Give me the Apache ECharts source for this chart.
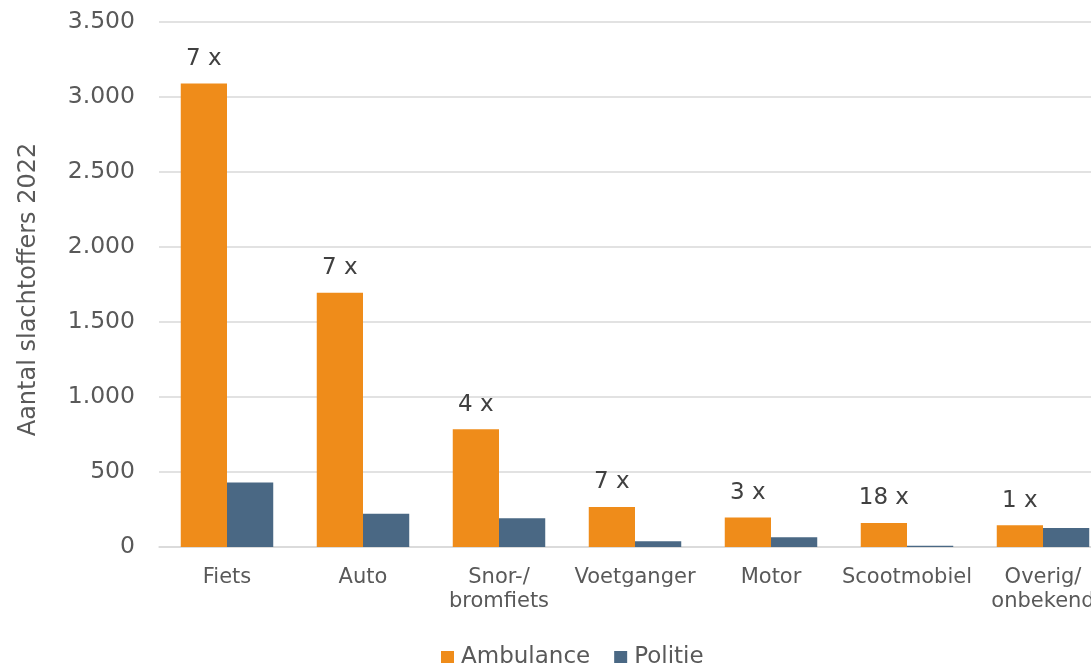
<!DOCTYPE html>
<html>
<head>
<meta charset="utf-8">
<script src="https://cdn.jsdelivr.net/npm/echarts@6/dist/echarts.min.js"></script>
<style>
html,body{margin:0;padding:0;background:#fff;overflow:hidden;width:1091px;height:663px;}
#chart{width:1111px;height:663px;}
</style>
</head>
<body>
<div id="chart"></div>
<script>
const categories = ['Fiets', 'Auto', 'Snor-/\nbromfiets', 'Voetganger', 'Motor', 'Scootmobiel', 'Overig/\nonbekend'];
const ambulance = [3090, 1695, 785, 267, 196, 160, 145];
const politie = [430, 222, 191, 38, 65, 9, 127];
const ratioLabels = ['7 x', '7 x', '4 x', '7 x', '3 x', '18 x', '1 x'];
const yTicks = [0, 500, 1000, 1500, 2000, 2500, 3000, 3500];

const FONT = 'DejaVu Sans';
const chart = echarts.init(document.getElementById('chart'));
chart.setOption({
  animation: false,
  textStyle: { fontFamily: FONT },
  grid: { left: 159, right: 0, top: 22, bottom: 116 },
  legend: {
    left: 436, top: 641,
    itemWidth: 13, itemHeight: 13, itemGap: 24,
    icon: 'rect',
    textStyle: { fontFamily: FONT, fontSize: 23, color: '#595959', padding: [0, 0, 0, 2] },
    data: ['Ambulance', 'Politie']
  },
  xAxis: {
    type: 'category',
    data: categories,
    axisLine: { show: true, lineStyle: { color: '#D9D9D9', width: 1.5 } },
    axisTick: { show: false },
    axisLabel: { fontFamily: FONT, fontSize: 21, color: '#595959', margin: 19, lineHeight: 24, interval: 0 }
  },
  yAxis: {
    type: 'value',
    min: yTicks[0], max: yTicks[yTicks.length - 1], interval: 500,
    name: 'Aantal slachtoffers 2022',
    nameLocation: 'middle',
    nameGap: 118,
    nameRotate: 90,
    nameTextStyle: { fontFamily: FONT, fontSize: 24, color: '#595959', padding: [0, 0, 0, -10] },
    axisLine: { show: false },
    axisTick: { show: false },
    splitLine: { lineStyle: { color: '#D9D9D9', width: 1.5 } },
    axisLabel: {
      fontFamily: FONT, fontSize: 23.5, color: '#595959', margin: 24,
      formatter: v => v.toString().replace(/\B(?=(\d{3})+(?!\d))/g, '.')
    }
  },
  series: [
    {
      name: 'Ambulance', type: 'bar', data: ambulance,
      barGap: '0%', barCategoryGap: '32%',
      itemStyle: { color: '#EF8C1A' },
      label: {
        show: true, position: 'top', distance: 13,
        fontFamily: FONT, fontSize: 23, color: '#404040',
        formatter: p => ratioLabels[p.dataIndex]
      }
    },
    {
      name: 'Politie', type: 'bar', data: politie,
      itemStyle: { color: '#4A6884' }
    }
  ]
});
</script>
</body>
</html>
